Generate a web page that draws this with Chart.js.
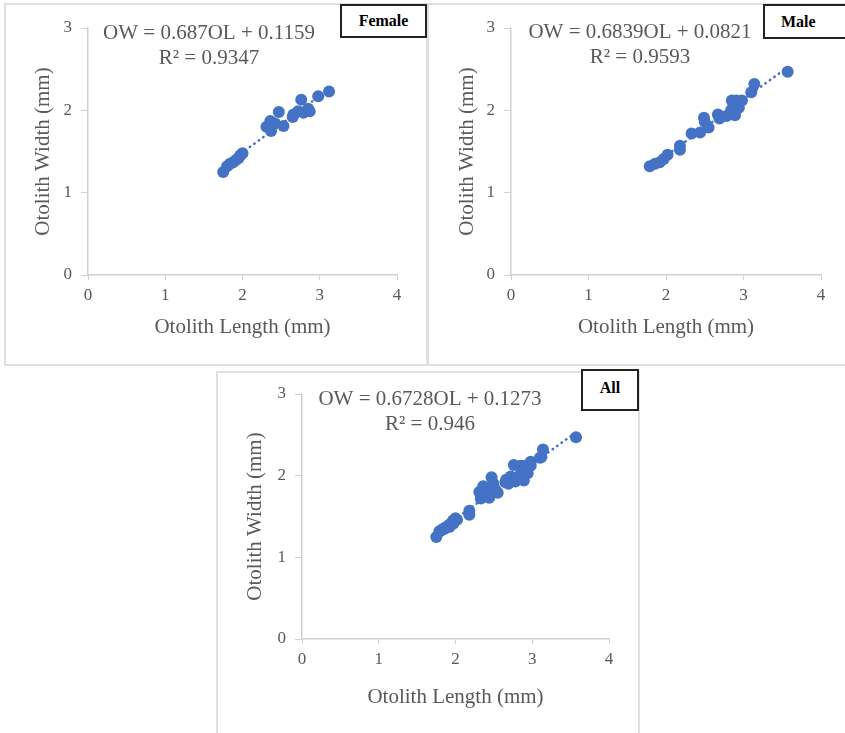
<!DOCTYPE html>
<html>
<head>
<meta charset="utf-8">
<script src="https://cdn.jsdelivr.net/npm/chart.js@4.4.1/dist/chart.umd.min.js"></script>
<style>
  html, body { margin: 0; padding: 0; background: #fff; }
  body { width: 845px; height: 733px; position: relative; overflow: hidden; font-family: 'Liberation Serif', 'Times New Roman', serif; }
  .panel { position: absolute; box-sizing: border-box; border: 2px solid #e0e0e0; background: #fff; }
  .panel canvas { position: absolute; left: 0; top: 0; }
  .tag { position: absolute; box-sizing: border-box; border: 2px solid #222; background: #fff; color: #000;
         font: bold 16px 'Liberation Serif', serif; text-align: center; }
</style>
</head>
<body>

<div class="panel" id="pFemale" style="left:4px;top:3px;width:424px;height:363px;"><canvas id="cFemale"></canvas></div>
<div class="panel" id="pMale" style="left:427px;top:3px;width:422px;height:363px;"><canvas id="cMale"></canvas></div>
<div class="panel" id="pAll" style="left:216px;top:371px;width:424px;height:370px;"><canvas id="cAll"></canvas></div>

<div class="tag" style="left:340px;top:4px;width:87px;height:34px;line-height:30px;">Female</div>
<div class="tag" style="left:763px;top:4px;width:95px;height:35px;line-height:31px;text-align:left;padding-left:16px;">Male</div>
<div class="tag" style="left:581px;top:369px;width:58px;height:42px;line-height:34px;">All</div>

<script>
// Female otolith length / width (mm)
const femaleOL = [1.75, 1.80, 1.84, 1.88, 1.92, 1.95, 1.97, 2.00, 2.31, 2.36, 2.37, 2.42, 2.47, 2.53, 2.65, 2.66, 2.72, 2.76, 2.79, 2.85, 2.87, 2.98, 3.12];
const femaleOW = [1.25, 1.32, 1.35, 1.37, 1.40, 1.42, 1.45, 1.48, 1.80, 1.87, 1.75, 1.84, 1.98, 1.81, 1.92, 1.95, 1.99, 2.13, 1.97, 2.02, 1.99, 2.17, 2.23];

// Male otolith length / width (mm)
const maleOL = [1.79, 1.86, 1.92, 1.97, 2.02, 2.18, 2.18, 2.33, 2.44, 2.49, 2.50, 2.55, 2.67, 2.69, 2.78, 2.84, 2.85, 2.87, 2.88, 2.89, 2.91, 2.94, 2.98, 3.10, 3.14, 3.57];
const maleOW = [1.32, 1.35, 1.37, 1.41, 1.46, 1.57, 1.52, 1.72, 1.73, 1.91, 1.86, 1.79, 1.95, 1.90, 1.93, 2.00, 2.12, 2.06, 1.98, 1.94, 2.12, 2.03, 2.12, 2.22, 2.32, 2.47];

// All = female + male
const allOL = femaleOL.concat(maleOL);
const allOW = femaleOW.concat(maleOW);

// linear trendline end points (from the fitted equations)
const femaleTrendX = [1.75, 3.12];
const femaleTrendY = [1.318, 2.259];
const maleTrendX = [1.79, 3.57];
const maleTrendY = [1.306, 2.524];
const allTrendX = [1.75, 3.57];
const allTrendY = [1.305, 2.529];

const xTicks = [0, 1, 2, 3, 4];
const yTicks = [0, 1, 2, 3];

const femaleEq = ['OW = 0.687OL + 0.1159', 'R\u00B2 = 0.9347'];
const maleEq = ['OW = 0.6839OL + 0.0821', 'R\u00B2 = 0.9593'];
const allEq = ['OW = 0.6728OL + 0.1273', 'R\u00B2 = 0.946'];

const BLUE = '#4472C4';
const GREY = '#595959';
const AXIS = '#d0d0d0';
const FONT = "'Liberation Serif', 'Times New Roman', serif";

function toPoints(xs, ys) {
  return xs.map((x, i) => ({ x: x, y: ys[i] }));
}

// draws the trendline equation text inside the plot
const equationPlugin = {
  id: 'equation',
  afterDatasetsDraw(chart, args, opts) {
    const { ctx, chartArea } = chart;
    ctx.save();
    ctx.font = '21px ' + FONT;
    ctx.fillStyle = GREY;
    ctx.textAlign = 'center';
    ctx.textBaseline = 'middle';
    const cx = chartArea.left + opts.dx;
    ctx.fillText(opts.lines[0], cx, chartArea.top + opts.dy);
    ctx.fillText(opts.lines[1], cx, chartArea.top + opts.dy + 25);
    ctx.restore();
  }
};

function makeChart(p) {
  const canvas = document.getElementById(p.id);
  canvas.width = p.w;
  canvas.height = p.h;
  canvas.style.width = p.w + 'px';
  canvas.style.height = p.h + 'px';

  return new Chart(canvas, {
    type: 'scatter',
    data: {
      datasets: [
        {
          label: 'trend',
          type: 'line',
          data: toPoints(p.trendX, p.trendY),
          borderColor: BLUE,
          borderWidth: 2.5,
          borderDash: [0.5, 5],
          borderCapStyle: 'round',
          pointRadius: 0,
          fill: false,
          order: 0,
        },
        {
          label: 'data',
          data: toPoints(p.xs, p.ys),
          backgroundColor: BLUE,
          borderColor: BLUE,
          borderWidth: 0,
          pointRadius: 6,
          order: 1,
        },
      ],
    },
    options: {
      responsive: false,
      animation: false,
      events: [],
      layout: { padding: { left: 0, top: p.area.t, right: p.w - p.area.r, bottom: 0 } },
      scales: {
        x: {
          type: 'linear',
          min: 0,
          max: 4,
          afterBuildTicks: (s) => { s.ticks = xTicks.map(v => ({ value: v })); },
          afterFit: (s) => { s.height = p.h - p.area.b; },
          ticks: { color: GREY, font: { family: FONT, size: 17 }, padding: 5 },
          grid: { drawOnChartArea: false, drawTicks: true, tickLength: 5, color: AXIS },
          border: { color: AXIS, width: 1.5 },
          title: { display: true, text: 'Otolith Length (mm)', color: GREY, font: { family: FONT, size: 21 }, padding: { top: 0, bottom: p.xTitlePad } },
        },
        y: {
          type: 'linear',
          min: 0,
          max: 3,
          afterBuildTicks: (s) => { s.ticks = yTicks.map(v => ({ value: v })); },
          afterFit: (s) => { s.width = p.area.l; },
          ticks: { color: GREY, font: { family: FONT, size: 17 }, padding: 9 },
          grid: { drawOnChartArea: false, drawTicks: true, tickLength: 7, color: AXIS },
          border: { color: AXIS, width: 1.5 },
          title: { display: true, text: 'Otolith Width (mm)', color: GREY, font: { family: FONT, size: 21 }, padding: { top: p.yTitlePad, bottom: 0 } },
        },
      },
      plugins: {
        legend: { display: false },
        tooltip: { enabled: false },
        equation: { lines: p.eq, dx: p.eqDx, dy: p.eqDy },
      },
    },
    plugins: [equationPlugin],
  });
}

// canvas coords are relative to the inside of each panel border
makeChart({ id: 'cFemale', w: 420, h: 359, area: { l: 82, t: 23, r: 391, b: 270 },
  xs: femaleOL, ys: femaleOW, trendX: femaleTrendX, trendY: femaleTrendY,
  eq: femaleEq, eqDx: 121, eqDy: 5, yTitlePad: 25, xTitlePad: 24 });

makeChart({ id: 'cMale', w: 418, h: 359, area: { l: 82, t: 23, r: 392, b: 270 },
  xs: maleOL, ys: maleOW, trendX: maleTrendX, trendY: maleTrendY,
  eq: maleEq, eqDx: 129, eqDy: 4, yTitlePad: 26, xTitlePad: 24 });

makeChart({ id: 'cAll', w: 420, h: 366, area: { l: 84, t: 21, r: 391, b: 266 },
  xs: allOL, ys: allOW, trendX: allTrendX, trendY: allTrendY,
  eq: allEq, eqDx: 128, eqDy: 5, yTitlePad: 25, xTitlePad: 29 });
</script>
</body>
</html>
